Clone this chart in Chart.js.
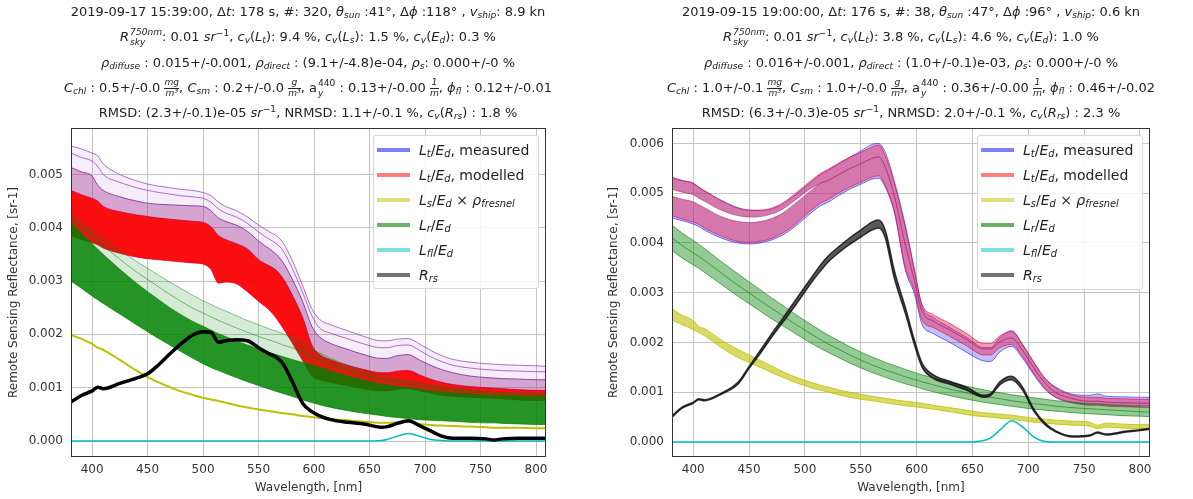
<!DOCTYPE html>
<html><head><meta charset="utf-8">
<script src="https://cdn.jsdelivr.net/npm/chart.js@4.4.1/dist/chart.umd.min.js"></script>
<style>
body{margin:0;background:#fff;width:1193px;height:499px;overflow:hidden;position:relative;font-family:"DejaVu Sans",sans-serif;}
canvas{position:absolute;top:0}
#cL{left:0}
#cR{left:600px}
.tl{position:absolute;white-space:nowrap;font-size:13px;line-height:20px;color:#222;transform:translateX(-50%);}
.tl i{font-style:italic}
sub,sup{font-size:70%;line-height:0}
sub{vertical-align:-0.25em} sup{vertical-align:0.55em}
.ss{display:inline-flex;flex-direction:column;vertical-align:middle;font-size:70%;line-height:1.05;text-align:left;margin-left:1px}
.fr{display:inline-flex;flex-direction:column;vertical-align:middle;font-size:70%;line-height:1.05;text-align:center;font-style:italic}
.fr span:first-child{border-bottom:1px solid #222}
.lg{position:absolute;border:1px solid #d6d6d6;border-radius:3px;background:rgba(255,255,255,0.85);z-index:5;}
.row{position:absolute;left:3px;height:20px;white-space:nowrap;font-size:14px;line-height:20px;color:#222}
.hd{position:absolute;left:0;top:8px;width:33px;height:4px}
.tx{position:absolute;left:42px;top:0}
</style></head><body>
<canvas id="cL" width="600" height="499"></canvas>
<canvas id="cR" width="593" height="499"></canvas>

<div class="tl" style="left:308px;top:2px">2019-09-17 15:39:00, Δ<i>t</i>: 178 s, #: 320, <i>θ<sub>sun</sub></i> :41°, Δ<i>ϕ</i> :118° , <i>v<sub>ship</sub></i>: 8.9 kn</div>
<div class="tl" style="left:308px;top:27px"><i>R</i><span class="ss"><i>750nm</i><i>sky</i></span>: 0.01 <i>sr</i><sup>−1</sup>, <i>c<sub>v</sub></i>(<i>L<sub>t</sub></i>): 9.4 %, <i>c<sub>v</sub></i>(<i>L<sub>s</sub></i>): 1.5 %, <i>c<sub>v</sub></i>(<i>E<sub>d</sub></i>): 0.3 %</div>
<div class="tl" style="left:308px;top:53px"><i>ρ<sub>diffuse</sub></i> : 0.015+/-0.001, <i>ρ<sub>direct</sub></i> : (9.1+/-4.8)e-04, <i>ρ<sub>s</sub></i>: 0.000+/-0 %</div>
<div class="tl" style="left:308px;top:78px"><i>C<sub>chl</sub></i> : 0.5+/-0.0 <span class="fr"><span>mg</span><span>m³</span></span>, <i>C<sub>sm</sub></i> : 0.2+/-0.0 <span class="fr"><span>g</span><span>m³</span></span>, a<span class="ss"><span>440</span><i>y</i></span> : 0.13+/-0.00 <span class="fr"><span>1</span><span>m</span></span>, <i>ϕ<sub>fl</sub></i> : 0.12+/-0.01</div>
<div class="tl" style="left:308px;top:103px">RMSD: (2.3+/-0.1)e-05 <i>sr</i><sup>−1</sup>, NRMSD: 1.1+/-0.1 %, <i>c<sub>v</sub></i>(<i>R<sub>rs</sub></i>) : 1.8 %</div>

<div class="tl" style="left:911px;top:2px">2019-09-15 19:00:00, Δ<i>t</i>: 176 s, #: 38, <i>θ<sub>sun</sub></i> :47°, Δ<i>ϕ</i> :96° , <i>v<sub>ship</sub></i>: 0.6 kn</div>
<div class="tl" style="left:911px;top:27px"><i>R</i><span class="ss"><i>750nm</i><i>sky</i></span>: 0.01 <i>sr</i><sup>−1</sup>, <i>c<sub>v</sub></i>(<i>L<sub>t</sub></i>): 3.8 %, <i>c<sub>v</sub></i>(<i>L<sub>s</sub></i>): 4.6 %, <i>c<sub>v</sub></i>(<i>E<sub>d</sub></i>): 1.0 %</div>
<div class="tl" style="left:911px;top:53px"><i>ρ<sub>diffuse</sub></i> : 0.016+/-0.001, <i>ρ<sub>direct</sub></i> : (1.0+/-0.1)e-03, <i>ρ<sub>s</sub></i>: 0.000+/-0 %</div>
<div class="tl" style="left:911px;top:78px"><i>C<sub>chl</sub></i> : 1.0+/-0.1 <span class="fr"><span>mg</span><span>m³</span></span>, <i>C<sub>sm</sub></i> : 1.0+/-0.0 <span class="fr"><span>g</span><span>m³</span></span>, a<span class="ss"><span>440</span><i>y</i></span> : 0.36+/-0.00 <span class="fr"><span>1</span><span>m</span></span>, <i>ϕ<sub>fl</sub></i> : 0.46+/-0.02</div>
<div class="tl" style="left:911px;top:103px">RMSD: (6.3+/-0.3)e-05 <i>sr</i><sup>−1</sup>, NRMSD: 2.0+/-0.1 %, <i>c<sub>v</sub></i>(<i>R<sub>rs</sub></i>) : 2.3 %</div>

<div id="lgL" class="lg" style="left:373px;top:135px;width:164px;height:152px"></div>
<div id="lgR" class="lg" style="left:977px;top:135px;width:164px;height:153px"></div>

<script>
// ---------- data ----------
const WL = [381,390,400,405,410,425,440,450,460,470,480,
            490,500,507,514,520,530,540,550,560,566,572,
            580,590,598,605,615,630,645,660,666,675,685,
            695,705,715,725,740,755,762,770,785,800,809];

// Left panel: 2019-09-17 15:39:00
const L_measHi1 = [0.00553,0.00548,0.00540,0.00535,0.00520,0.00500,0.00488,0.00482,0.00478,0.00475,0.00472,
  0.00470,0.00466,0.00460,0.00448,0.00440,0.00432,0.00420,0.00405,0.00392,0.00385,0.00372,
  0.00340,0.00290,0.00248,0.00228,0.00218,0.00207,0.00196,0.00188,0.00188,0.00191,0.00192,
  0.00182,0.00170,0.00160,0.00153,0.00148,0.00145,0.00144,0.00143,0.00142,0.00141,0.00140];
const L_measHi2 = [0.00540,0.00532,0.00525,0.00515,0.00500,0.00485,0.00475,0.00470,0.00466,0.00463,0.00460,
  0.00458,0.00455,0.00448,0.00435,0.00428,0.00420,0.00408,0.00392,0.00378,0.00370,0.00357,
  0.00325,0.00277,0.00235,0.00212,0.00202,0.00192,0.00182,0.00175,0.00175,0.00179,0.00180,
  0.00170,0.00158,0.00149,0.00142,0.00137,0.00134,0.00133,0.00132,0.00131,0.00130,0.00130];
const L_measTop = [0.00513,0.00505,0.00497,0.00480,0.00470,0.00458,0.00450,0.00446,0.00444,0.00443,0.00442,
  0.00441,0.00440,0.00432,0.00418,0.00412,0.00405,0.00393,0.00375,0.00360,0.00350,0.00335,
  0.00305,0.00260,0.00215,0.00195,0.00183,0.00172,0.00162,0.00155,0.00155,0.00160,0.00162,
  0.00152,0.00142,0.00134,0.00128,0.00122,0.00119,0.00118,0.00117,0.00116,0.00115,0.00115];
const L_modTop = [0.00470,0.00462,0.00455,0.00450,0.00440,0.00430,0.00424,0.00421,0.00418,0.00416,0.00414,
  0.00412,0.00410,0.00402,0.00385,0.00378,0.00370,0.00360,0.00340,0.00328,0.00320,0.00305,
  0.00275,0.00230,0.00180,0.00162,0.00152,0.00142,0.00134,0.00128,0.00128,0.00131,0.00132,
  0.00124,0.00116,0.00110,0.00106,0.00102,0.00100,0.00099,0.00098,0.00096,0.00095,0.00095];
const L_modBot = [0.00385,0.00378,0.00372,0.00368,0.00362,0.00352,0.00345,0.00342,0.00340,0.00338,0.00336,
  0.00334,0.00332,0.00322,0.00296,0.00298,0.00295,0.00280,0.00262,0.00245,0.00230,0.00212,
  0.00185,0.00150,0.00122,0.00115,0.00110,0.00104,0.00098,0.00094,0.00094,0.00097,0.00098,
  0.00094,0.00090,0.00086,0.00084,0.00082,0.00081,0.00080,0.00079,0.00077,0.00076,0.00076];
const L_ls = [0.00199,0.00192,0.00182,0.00175,0.00171,0.00152,0.00132,0.00120,0.00110,0.00101,0.00093,
  0.00087,0.00081,0.00078,0.00075,0.00072,0.00067,0.00063,0.00059,0.00056,0.00054,0.00052,
  0.00050,0.00047,0.00045,0.00043,0.00041,0.00039,0.00036,0.00034,0.00034,0.00035,0.00036,
  0.00032,0.00030,0.00029,0.00028,0.00027,0.00026,0.00025,0.00025,0.00025,0.00024,0.00024];
const L_lrHi1 = [0.00425,0.00410,0.00395,0.00388,0.00380,0.00358,0.00337,0.00324,0.00311,0.00298,0.00286,
  0.00274,0.00263,0.00256,0.00249,0.00244,0.00235,0.00226,0.00218,0.00210,0.00206,0.00201,
  0.00195,0.00184,0.00173,0.00165,0.00155,0.00142,0.00131,0.00122,0.00119,0.00116,0.00113,
  0.00109,0.00105,0.00102,0.00099,0.00096,0.00093,0.00092,0.00091,0.00090,0.00089,0.00088];
const L_lrHi2 = [0.00418,0.00400,0.00383,0.00374,0.00366,0.00341,0.00317,0.00303,0.00289,0.00275,0.00262,
  0.00250,0.00240,0.00233,0.00226,0.00221,0.00212,0.00204,0.00196,0.00189,0.00185,0.00180,
  0.00175,0.00167,0.00159,0.00153,0.00145,0.00134,0.00124,0.00116,0.00113,0.00110,0.00107,
  0.00104,0.00100,0.00097,0.00095,0.00092,0.00090,0.00089,0.00088,0.00087,0.00086,0.00085];
const L_lrTop = [0.00410,0.00390,0.00370,0.00360,0.00350,0.00322,0.00296,0.00280,0.00265,0.00250,0.00237,
  0.00225,0.00215,0.00208,0.00201,0.00196,0.00188,0.00180,0.00173,0.00166,0.00162,0.00158,
  0.00153,0.00147,0.00142,0.00138,0.00131,0.00122,0.00114,0.00107,0.00105,0.00102,0.00100,
  0.00097,0.00094,0.00092,0.00090,0.00088,0.00086,0.00085,0.00085,0.00084,0.00083,0.00083];
const L_lrBot = [0.00300,0.00287,0.00272,0.00265,0.00258,0.00238,0.00218,0.00205,0.00192,0.00180,0.00168,
  0.00156,0.00145,0.00138,0.00132,0.00127,0.00119,0.00111,0.00104,0.00097,0.00093,0.00089,
  0.00084,0.00077,0.00072,0.00068,0.00063,0.00057,0.00052,0.00048,0.00046,0.00044,0.00042,
  0.00040,0.00039,0.00038,0.00037,0.00035,0.00034,0.00034,0.00033,0.00032,0.00031,0.00031];
const L_fl = [0,0,0,0,0,0,0,0,0,0,0,
  0,0,0,0,0,0,0,0,0,0,0,
  0,0,0,0,0,0,0,0.00001,0.00003,0.00009,0.00014,
  0.00009,0.00003,0.00001,0,0,0,0,0,0,0,0];
const L_rrs = [0.00073,0.00085,0.00094,0.00101,0.00098,0.00108,0.00118,0.00126,0.00143,0.00163,0.00182,
  0.00198,0.00205,0.00204,0.00185,0.00188,0.00190,0.00188,0.00175,0.00163,0.00157,0.00145,
  0.00113,0.00070,0.00055,0.00047,0.00040,0.00035,0.00032,0.00026,0.00027,0.00033,0.00038,
  0.00029,0.00019,0.00009,0.00005,0.00005,0.00004,0.00002,0.00004,0.00005,0.00005,0.00005];

// Right panel: 2019-09-15 19:00:00
const R_measTop = [0.00530,0.00525,0.00520,0.00512,0.00505,0.00486,0.00471,0.00466,0.00465,0.00468,0.00478,
  0.00494,0.00512,0.00525,0.00537,0.00545,0.00558,0.00572,0.00585,0.00598,0.00600,0.00582,
  0.00525,0.00435,0.00348,0.00272,0.00250,0.00230,0.00210,0.00190,0.00190,0.00210,0.00224,
  0.00196,0.00160,0.00128,0.00110,0.00096,0.00094,0.00097,0.00092,0.00091,0.00090,0.00090];
const R_measBot = [0.00450,0.00445,0.00438,0.00433,0.00426,0.00410,0.00400,0.00398,0.00400,0.00406,0.00416,
  0.00431,0.00450,0.00463,0.00475,0.00481,0.00495,0.00508,0.00518,0.00528,0.00530,0.00512,
  0.00462,0.00345,0.00298,0.00236,0.00218,0.00200,0.00180,0.00163,0.00162,0.00182,0.00192,
  0.00168,0.00135,0.00106,0.00089,0.00079,0.00076,0.00077,0.00075,0.00074,0.00073,0.00073];
const R_modTop = [0.00532,0.00526,0.00520,0.00512,0.00505,0.00485,0.00470,0.00466,0.00466,0.00470,0.00480,
  0.00497,0.00515,0.00528,0.00540,0.00547,0.00560,0.00572,0.00582,0.00593,0.00597,0.00575,
  0.00520,0.00430,0.00345,0.00276,0.00256,0.00238,0.00218,0.00198,0.00198,0.00214,0.00222,
  0.00195,0.00160,0.00128,0.00108,0.00094,0.00090,0.00090,0.00088,0.00087,0.00086,0.00086];
const R_modGapHi = [0.00508,0.00502,0.00497,0.00490,0.00484,0.00466,0.00455,0.00452,0.00453,0.00458,0.00468,
  0.00484,0.00501,0.00512,0.00520,0.00525,0.00537,0.00549,0.00559,0.00570,0.00573,0.00552,
  0.00495,0.00395,0.00325,0.00262,0.00243,0.00225,0.00206,0.00187,0.00187,0.00202,0.00209,
  0.00184,0.00149,0.00118,0.00099,0.00087,0.00082,0.00082,0.00080,0.00079,0.00078,0.00078];
const R_modGapLo = [0.00494,0.00488,0.00483,0.00477,0.00471,0.00453,0.00443,0.00441,0.00443,0.00449,0.00460,
  0.00477,0.00495,0.00508,0.00520,0.00525,0.00537,0.00549,0.00559,0.00570,0.00573,0.00552,
  0.00495,0.00395,0.00325,0.00262,0.00243,0.00225,0.00206,0.00187,0.00187,0.00202,0.00209,
  0.00184,0.00149,0.00118,0.00099,0.00087,0.00082,0.00082,0.00080,0.00079,0.00078,0.00078];
const R_modBot = [0.00455,0.00448,0.00442,0.00437,0.00430,0.00414,0.00403,0.00401,0.00403,0.00409,0.00420,
  0.00435,0.00455,0.00468,0.00480,0.00486,0.00500,0.00512,0.00522,0.00532,0.00535,0.00515,
  0.00465,0.00350,0.00305,0.00245,0.00230,0.00212,0.00193,0.00175,0.00175,0.00190,0.00196,
  0.00172,0.00138,0.00108,0.00090,0.00079,0.00074,0.00074,0.00072,0.00071,0.00070,0.00070];
const R_lsTop = [0.00268,0.00255,0.00244,0.00232,0.00228,0.00205,0.00186,0.00175,0.00164,0.00153,0.00142,
  0.00132,0.00124,0.00119,0.00114,0.00111,0.00105,0.00100,0.00096,0.00092,0.00090,0.00088,
  0.00085,0.00082,0.00080,0.00078,0.00074,0.00069,0.00064,0.00059,0.00058,0.00056,0.00054,
  0.00051,0.00048,0.00046,0.00044,0.00042,0.00040,0.00034,0.00038,0.00036,0.00035,0.00035];
const R_lsBot = [0.00245,0.00236,0.00226,0.00220,0.00214,0.00190,0.00170,0.00160,0.00150,0.00140,0.00130,
  0.00121,0.00113,0.00108,0.00104,0.00101,0.00095,0.00090,0.00086,0.00083,0.00081,0.00079,
  0.00076,0.00073,0.00071,0.00069,0.00066,0.00061,0.00055,0.00051,0.00050,0.00048,0.00046,
  0.00043,0.00040,0.00038,0.00036,0.00034,0.00032,0.00027,0.00030,0.00028,0.00027,0.00027];
const R_lrTop = [0.00436,0.00420,0.00405,0.00397,0.00389,0.00363,0.00338,0.00322,0.00306,0.00290,0.00275,
  0.00259,0.00244,0.00234,0.00224,0.00216,0.00204,0.00192,0.00181,0.00171,0.00166,0.00160,
  0.00154,0.00146,0.00140,0.00135,0.00129,0.00120,0.00112,0.00105,0.00102,0.00099,0.00095,
  0.00092,0.00089,0.00086,0.00083,0.00080,0.00077,0.00076,0.00075,0.00073,0.00071,0.00070];
const R_lrMid = [0.00410,0.00395,0.00380,0.00373,0.00365,0.00340,0.00315,0.00300,0.00284,0.00269,0.00254,
  0.00239,0.00225,0.00215,0.00206,0.00198,0.00187,0.00175,0.00165,0.00155,0.00150,0.00145,
  0.00139,0.00131,0.00126,0.00121,0.00115,0.00106,0.00099,0.00092,0.00090,0.00087,0.00083,
  0.00080,0.00077,0.00075,0.00072,0.00069,0.00067,0.00066,0.00065,0.00063,0.00061,0.00060];
const R_lrBot = [0.00385,0.00370,0.00356,0.00349,0.00341,0.00317,0.00293,0.00278,0.00263,0.00248,0.00234,
  0.00220,0.00206,0.00197,0.00188,0.00181,0.00170,0.00159,0.00149,0.00140,0.00135,0.00130,
  0.00124,0.00117,0.00112,0.00107,0.00101,0.00093,0.00086,0.00080,0.00078,0.00075,0.00072,
  0.00069,0.00066,0.00064,0.00062,0.00059,0.00057,0.00056,0.00055,0.00053,0.00052,0.00051];
const R_fl = [0,0,0,0,0,0,0,0,0,0,0,
  0,0,0,0,0,0,0,0,0,0,0,
  0,0,0,0,0,0,0,0.00003,0.00008,0.00025,0.00043,
  0.00030,0.00010,0.00001,0,0,0,0,0,0,0,0];
const R_rrsTop = [0.00053,0.00070,0.00080,0.00087,0.00085,0.00098,0.00120,0.00152,0.00184,0.00217,0.00248,
  0.00280,0.00312,0.00334,0.00356,0.00372,0.00392,0.00410,0.00426,0.00442,0.00446,0.00425,
  0.00345,0.00270,0.00205,0.00158,0.00135,0.00122,0.00110,0.00094,0.00097,0.00122,0.00132,
  0.00110,0.00066,0.00038,0.00022,0.00012,0.00014,0.00020,0.00016,0.00021,0.00025,0.00028];
const R_rrsBot = [0.00050,0.00068,0.00078,0.00085,0.00083,0.00096,0.00116,0.00148,0.00178,0.00210,0.00240,
  0.00270,0.00302,0.00324,0.00344,0.00360,0.00380,0.00397,0.00412,0.00426,0.00430,0.00410,
  0.00330,0.00258,0.00196,0.00150,0.00128,0.00116,0.00104,0.00090,0.00093,0.00116,0.00125,
  0.00104,0.00062,0.00035,0.00020,0.00010,0.00012,0.00018,0.00014,0.00019,0.00023,0.00026];

const X_TICK_STEP = 50, Y_TICK_STEP = 0.001;
const LEGEND_LABELS = [
  '<i>L<sub>t</sub></i>/<i>E<sub>d</sub></i>, measured',
  '<i>L<sub>t</sub></i>/<i>E<sub>d</sub></i>, modelled',
  '<i>L<sub>s</sub></i>/<i>E<sub>d</sub></i> × <i>ρ<sub>fresnel</sub></i>',
  '<i>L<sub>r</sub></i>/<i>E<sub>d</sub></i>',
  '<i>L<sub>fl</sub></i>/<i>E<sub>d</sub></i>',
  '<i>R<sub>rs</sub></i>'];
const LEGEND_COLORS = ['rgba(0,0,255,0.5)','rgba(255,0,0,0.5)','rgba(191,191,0,0.5)','rgba(0,128,0,0.6)','rgba(0,191,191,0.5)','rgba(0,0,0,0.55)'];

// ---------- helpers ----------
const pts = ys => WL.map((x,i)=>({x:x,y:ys[i]}));
function build(specs){
  const names = specs.map(s=>s.name);
  const n = specs.length;
  return specs.map((s,i)=>({
    label:s.name, data:pts(s.y), borderColor:s.c, borderWidth:s.w||1,
    backgroundColor:s.bg||'transparent',
    fill: s.to ? {target:names.indexOf(s.to)} : false,
    order: n-i, pointRadius:0, cubicInterpolationMode:'monotone'
  }));
}
const frame = {id:'frame', afterDatasetsDraw(ch){
  const a=ch.chartArea, c=ch.ctx; c.save(); c.strokeStyle='#333'; c.lineWidth=1;
  c.strokeRect(Math.round(a.left)+0.5, Math.round(a.top)+0.5, Math.round(a.right-a.left)-1, Math.round(a.bottom-a.top)-1); c.restore();}};
const font = {family:'DejaVu Sans', size:12};
function opts(yMax, padR, yW){
  return {responsive:false, animation:false, devicePixelRatio:1,
    layout:{padding:{left:0,top:128,right:padR,bottom:0}},
    plugins:{legend:{display:false},tooltip:{enabled:false}},
    scales:{
      x:{type:'linear',min:381,max:809,afterFit:s=>{s.height=42;},
         ticks:{stepSize:X_TICK_STEP,includeBounds:false,padding:6,color:'#333',font:font,maxRotation:0},
         grid:{color:'#c4c4c4',drawTicks:false,lineWidth:1},border:{display:false},
         title:{display:true,text:'Wavelength, [nm]',color:'#333',font:font,padding:{top:0,bottom:4}}},
      y:{type:'linear',min:-0.0003,max:yMax,afterFit:s=>{s.width=yW;},
         ticks:{stepSize:Y_TICK_STEP,includeBounds:false,padding:8,color:'#333',font:font,
           callback:v=>(Math.abs(v)<1e-9?0:v).toFixed(3)},
         grid:{color:'#c4c4c4',drawTicks:false,lineWidth:1},border:{display:false},
         title:{display:true,text:'Remote Sensing Reflectance, [sr-1]',color:'#333',font:font,padding:{top:7,bottom:0}}}
    }};
}

const left = build([
  {name:'measHi1',y:L_measHi1,c:'rgba(150,50,180,0.7)',to:'measTop',bg:'rgba(160,80,190,0.10)'},
  {name:'measHi2',y:L_measHi2,c:'rgba(150,50,180,0.7)'},
  {name:'measTop',y:L_measTop,c:'rgba(130,30,170,0.8)',to:'modBot',bg:'rgba(150,40,140,0.42)'},
  {name:'modTop',y:L_modTop,c:'rgba(200,0,60,0.8)',to:'modBot',bg:'rgba(255,0,0,0.92)'},
  {name:'modBot',y:L_modBot,c:'rgba(230,0,40,0.8)'},
  {name:'ls',y:L_ls,c:'rgb(191,191,0)',w:2},
  {name:'lrHi1',y:L_lrHi1,c:'rgba(0,128,0,0.45)',to:'lrTop',bg:'rgba(0,128,0,0.16)'},
  {name:'lrHi2',y:L_lrHi2,c:'rgba(0,128,0,0.5)'},
  {name:'lrTop',y:L_lrTop,c:'rgba(0,128,0,0.7)',to:'lrBot',bg:'rgba(0,128,0,0.85)'},
  {name:'lrBot',y:L_lrBot,c:'rgba(0,128,0,0.7)'},
  {name:'fl',y:L_fl,c:'rgb(0,191,191)',w:1.5},
  {name:'rrs',y:L_rrs,c:'#000',w:3.5}
]);
const right = build([
  {name:'measTop',y:R_measTop,c:'rgba(0,0,255,0.5)',to:'modGapHi',bg:'rgba(60,60,255,0.32)'},
  {name:'measBot',y:R_measBot,c:'rgba(0,0,255,0.55)',to:'modGapLo',bg:'rgba(60,60,255,0.32)'},
  {name:'modTop',y:R_modTop,c:'rgba(230,0,50,0.6)',to:'modGapHi',bg:'rgba(235,30,70,0.45)'},
  {name:'modGapHi',y:R_modGapHi,c:'rgba(170,30,110,0.5)'},
  {name:'modGapLo',y:R_modGapLo,c:'rgba(170,30,110,0.5)',to:'modBot',bg:'rgba(235,30,70,0.45)'},
  {name:'modBot',y:R_modBot,c:'rgba(230,0,50,0.6)'},
  {name:'lsTop',y:R_lsTop,c:'rgba(191,191,0,0.8)',to:'lsBot',bg:'rgba(191,191,0,0.6)'},
  {name:'lsBot',y:R_lsBot,c:'rgba(191,191,0,0.8)'},
  {name:'lrTop',y:R_lrTop,c:'rgba(0,128,0,0.6)',to:'lrBot',bg:'rgba(0,128,0,0.42)'},
  {name:'lrMid',y:R_lrMid,c:'rgba(0,110,0,0.55)'},
  {name:'lrBot',y:R_lrBot,c:'rgba(0,128,0,0.6)'},
  {name:'fl',y:R_fl,c:'rgb(0,191,191)',w:1.5},
  {name:'rrsTop',y:R_rrsTop,c:'rgba(20,20,20,0.85)',w:1.5,to:'rrsBot',bg:'rgba(0,0,0,0.65)'},
  {name:'rrsBot',y:R_rrsBot,c:'rgba(20,20,20,0.85)',w:1.5}
]);

new Chart(document.getElementById('cL'),{type:'line',data:{datasets:left},options:opts(0.00587,54,71),plugins:[frame]});
new Chart(document.getElementById('cR'),{type:'line',data:{datasets:right},options:opts(0.00631,43,72),plugins:[frame]});

function legend(id){
  const el=document.getElementById(id);
  LEGEND_LABELS.forEach((t,i)=>{
    const r=document.createElement('div'); r.className='row'; r.style.top=(4+i*25)+'px';
    r.innerHTML='<span class="hd" style="background:'+LEGEND_COLORS[i]+'"></span><span class="tx">'+t+'</span>';
    el.appendChild(r);
  });
}
legend('lgL'); legend('lgR');
</script>
</body></html>
